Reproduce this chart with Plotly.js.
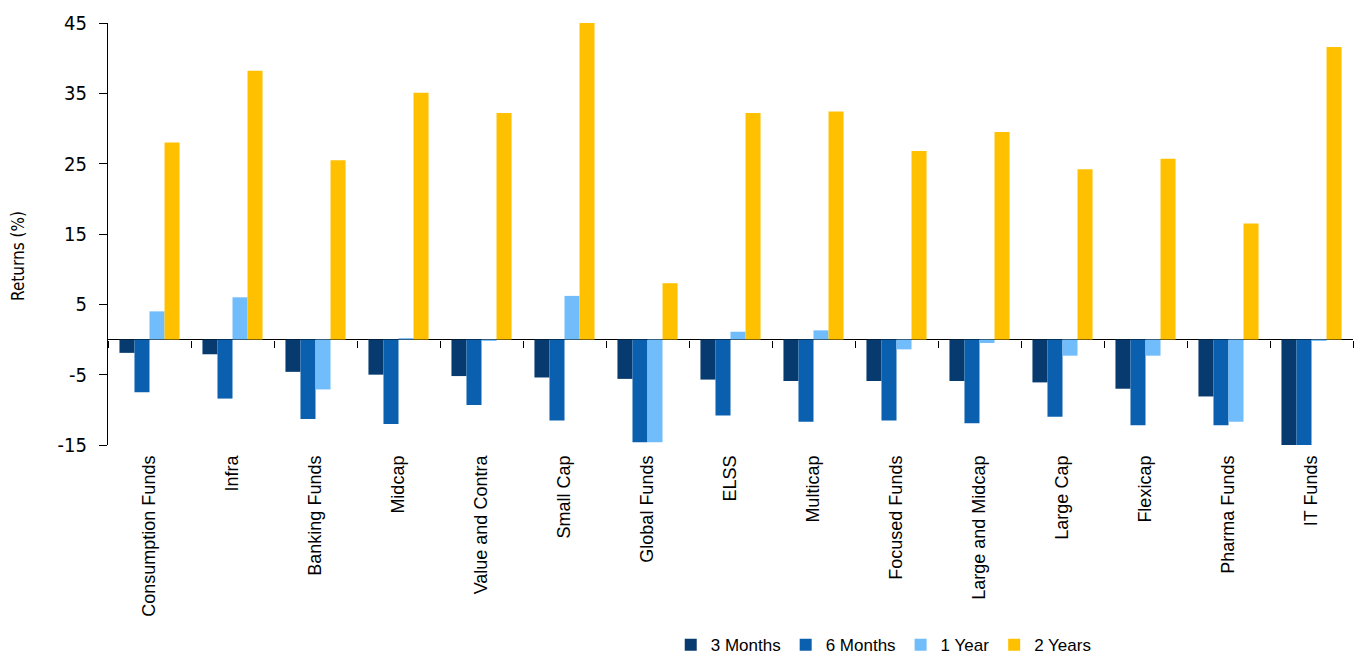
<!DOCTYPE html>
<html>
<head>
<meta charset="utf-8">
<script src="https://cdn.plot.ly/plotly-3.0.1.min.js"></script>
<style>html,body{margin:0;padding:0;background:#fff;}#chart{width:1359px;height:655px;}</style>
</head>
<body>
<div id="chart"></div>
<script>
const categories = ["Consumption Funds","Infra","Banking Funds","Midcap","Value and Contra","Small Cap","Global Funds","ELSS","Multicap","Focused Funds","Large and Midcap","Large Cap","Flexicap","Pharma Funds","IT Funds"];
const months3 = [-1.9,-2.1,-4.6,-5.0,-5.2,-5.4,-5.6,-5.7,-5.9,-5.9,-5.9,-6.1,-7.0,-8.1,-15.2];
const months6 = [-7.5,-8.4,-11.3,-12.0,-9.3,-11.5,-14.6,-10.8,-11.7,-11.5,-11.9,-11.0,-12.2,-12.2,-15.2];
const year1 = [4.0,6.0,-7.1,0.2,-0.2,6.2,-14.6,1.1,1.3,-1.4,-0.5,-2.3,-2.3,-11.7,-0.2];
const years2 = [28.0,38.2,25.5,35.1,32.2,45.1,8.0,32.2,32.4,26.8,29.5,24.2,25.7,16.5,41.6];
const seriesNames = ["3 Months","6 Months","1 Year","2 Years"];
const seriesColors = ["#073B6F","#0A60AE","#71BDFB","#FFC000"];
const yTicks = [-15,-5,5,15,25,35,45];
const yTitle = "Returns (%)";

const seriesData = [months3, months6, year1, years2];
const traces = seriesData.map((vals, i) => ({
  type: "bar",
  name: seriesNames[i],
  x: categories,
  y: vals,
  marker: {color: seriesColors[i]},
  cliponaxis: false,
  hoverinfo: "x+y+name"
}));
// helper trace for the tick marks along the zero line
traces.push({
  type: "scatter", mode: "none", x: categories, y: categories.map(() => null),
  xaxis: "x2", yaxis: "y", showlegend: false, hoverinfo: "skip"
});

const narrow = "Liberation Sans Narrow, Arial Narrow, DejaVu Sans Condensed, Liberation Sans, sans-serif";

const layout = {
  width: 1359, height: 655,
  margin: {l: 108, r: 6, t: 23, b: 210, autoexpand: false},
  paper_bgcolor: "#fff", plot_bgcolor: "#fff",
  barmode: "group", bargap: 0.276, bargroupgap: 0,
  font: {family: "Liberation Sans, Arial, sans-serif", color: "#000"},
  xaxis: {
    type: "category", categoryorder: "array", categoryarray: categories,
    showgrid: false, showline: false, ticks: "", tickangle: -90,
    tickfont: {family: "Liberation Sans, Arial, sans-serif", size: 18, color: "#000"},
    ticklabelstandoff: 6, zeroline: false, automargin: false
  },
  xaxis2: {
    type: "category", categoryorder: "array", categoryarray: categories,
    overlaying: "x", matches: "x", anchor: "free", position: 0.25,
    showgrid: false, showline: false, showticklabels: false,
    ticks: "outside", ticklen: 7, tickwidth: 1, tickcolor: "#000",
    tickson: "boundaries", zeroline: false
  },
  yaxis: {
    range: [-15, 45], tickvals: yTicks, ticktext: yTicks.map(String),
    showgrid: false, showline: true, linecolor: "#000", linewidth: 1,
    ticks: "outside", ticklen: 8, tickcolor: "#000",
    tickfont: {family: narrow, size: 20, color: "#000"},
    ticklabelstandoff: 8, automargin: false,
    zeroline: true, zerolinecolor: "#000", zerolinewidth: 1
  },
  annotations: [{
    text: yTitle, textangle: -90, showarrow: false,
    xref: "paper", yref: "paper", x: -0.0723, y: 0.448,
    xanchor: "center", yanchor: "middle",
    font: {family: narrow, size: 17, color: "#000"}
  }],
  legend: {
    orientation: "h", x: 0.452, xanchor: "left", xref: "paper",
    yref: "container", y: 0.015, yanchor: "middle",
    font: {family: "Liberation Sans, Arial, sans-serif", size: 17, color: "#000"},
    itemwidth: 30, tracegroupgap: 0, traceorder: "normal"
  },
  showlegend: true
};

Plotly.newPlot("chart", traces, layout, {displayModeBar: false, staticPlot: true});
</script>
</body>
</html>
